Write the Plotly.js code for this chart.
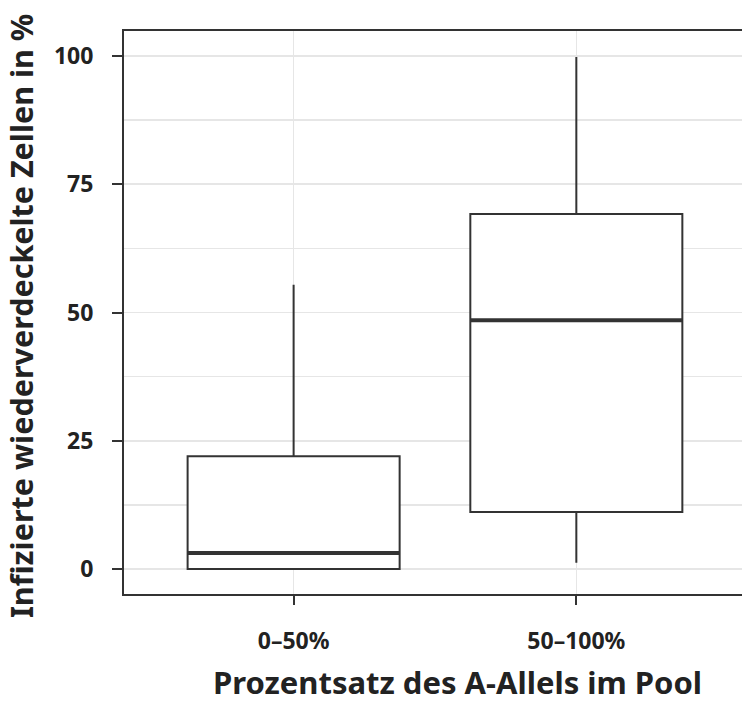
<!DOCTYPE html>
<html>
<head>
<meta charset="utf-8">
<script src="https://cdn.plot.ly/plotly-3.0.1.min.js"></script>
<style>html,body{margin:0;padding:0;background:#fff;overflow:hidden}</style>
</head>
<body>
<div id="chart" style="width:742px;height:704px"></div>
<script>
// Data
const categories = ["0–50%", "50–100%"];
const categoryPos = [1, 2];
const lowerWhisker = [0, 1.2];
const q1 = [0, 11.1];
const median = [3.1, 48.5];
const q3 = [22.0, 69.2];
const upperWhisker = [55.4, 99.8];
const yTicks = [0, 25, 50, 75, 100];

const boxWidth = 0.75;
const lineColor = '#333333';
const textColor = '#222222';
const gridColor = '#e6e6e6';
const fontFamily = '"Noto Sans", "Open Sans", sans-serif';

// plot area in pixels (for title placement)
const plotL = 124, plotW = 742 - 124, plotT = 31, plotH = 704 - 31 - 110;

const boxTrace = {
  type: 'box',
  x: categoryPos,
  q1: q1,
  median: median,
  q3: q3,
  lowerfence: lowerWhisker,
  upperfence: upperWhisker,
  width: boxWidth,
  whiskerwidth: 0,
  boxpoints: false,
  fillcolor: '#ffffff',
  line: {color: lineColor, width: 2},
  hoverinfo: 'skip',
  showlegend: false
};

const medX = [], medY = [];
categoryPos.forEach((p, i) => {
  medX.push(p - boxWidth / 2, p + boxWidth / 2, null);
  medY.push(median[i], median[i], null);
});
const medianTrace = {
  type: 'scatter', mode: 'lines', x: medX, y: medY,
  line: {color: lineColor, width: 4},
  hoverinfo: 'skip', showlegend: false
};

const layout = {
  width: 742, height: 704,
  margin: {l: plotL, r: 0, t: plotT, b: 110},
  paper_bgcolor: '#ffffff', plot_bgcolor: '#ffffff',
  font: {family: fontFamily, color: textColor},
  xaxis: {
    range: [0.4, 2.586],
    tickmode: 'array', tickvals: categoryPos, ticktext: categories,
    showgrid: true, gridcolor: gridColor, gridwidth: 1.5,
    zeroline: false,
    showline: true, linecolor: lineColor, linewidth: 2, mirror: true,
    ticks: 'outside', ticklen: 9, tickwidth: 2, tickcolor: lineColor,
    tickfont: {family: fontFamily, size: 23, color: textColor, weight: 'bold'},
    ticklabelstandoff: 16
  },
  yaxis: {
    range: [-4.87, 104.87],
    tickmode: 'array', tickvals: yTicks, ticktext: yTicks.map(String),
    showgrid: true, gridcolor: gridColor, gridwidth: 1.5,
    minor: {tickmode: 'linear', tick0: 0, dtick: 12.5, showgrid: true, gridcolor: gridColor, gridwidth: 1.5, ticks: ''},
    zeroline: false,
    showline: true, linecolor: lineColor, linewidth: 2, mirror: false,
    ticks: 'outside', ticklen: 10, tickwidth: 2, tickcolor: lineColor,
    tickfont: {family: fontFamily, size: 23, color: textColor, weight: 'bold'},
    ticklabelstandoff: 14
  },
  annotations: [
    {text: 'Prozentsatz des A-Allels im Pool', xref: 'paper', yref: 'paper',
     x: (457 - plotL) / plotW, y: -(682 - (plotT + plotH)) / plotH,
     xanchor: 'center', yanchor: 'middle', showarrow: false,
     font: {family: fontFamily, size: 31, color: textColor, weight: 'bold'}},
    {text: 'Infizierte wiederverdeckelte Zellen in %', xref: 'paper', yref: 'paper',
     x: -(plotL - 21) / plotW, y: (plotT + plotH - 316) / plotH, textangle: -90,
     xanchor: 'center', yanchor: 'middle', showarrow: false,
     font: {family: fontFamily, size: 30.5, color: textColor, weight: 'bold'}}
  ]
};

Plotly.newPlot('chart', [boxTrace, medianTrace], layout, {displayModeBar: false, staticPlot: true});
</script>
</body>
</html>
